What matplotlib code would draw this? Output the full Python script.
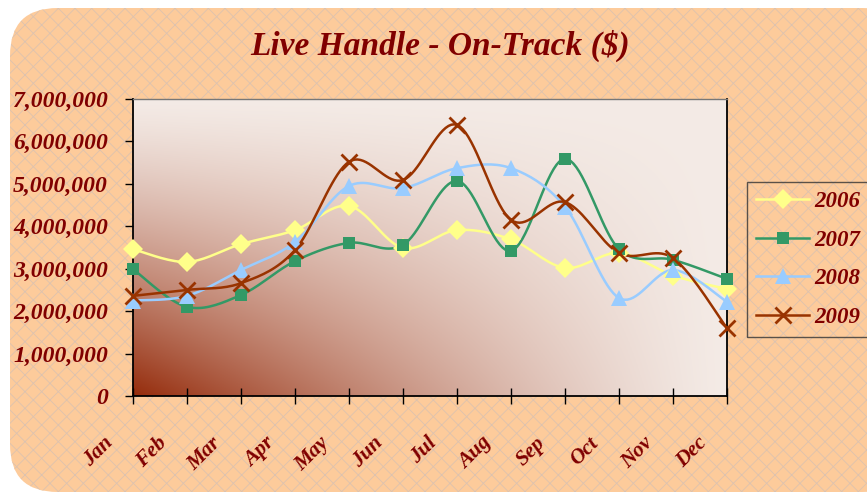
import numpy as np
import matplotlib
matplotlib.use("Agg")
import matplotlib.pyplot as plt
from matplotlib.patches import FancyBboxPatch
from matplotlib.transforms import ScaledTranslation
from matplotlib.colors import to_rgb

months = ['Jan', 'Feb', 'Mar', 'Apr', 'May', 'Jun', 'Jul', 'Aug', 'Sep', 'Oct', 'Nov', 'Dec']
years = ['2006', '2007', '2008', '2009']

v2006 = [3460000, 3160000, 3580000, 3910000, 4480000, 3490000, 3910000, 3690000, 3020000, 3370000, 2840000, 2520000]
v2007 = [2990000, 2100000, 2380000, 3180000, 3610000, 3560000, 5070000, 3420000, 5590000, 3460000, 3210000, 2760000]
v2008 = [2250000, 2360000, 2970000, 3630000, 4950000, 4900000, 5370000, 5370000, 4460000, 2310000, 2970000, 2220000]
v2009 = [2360000, 2500000, 2660000, 3440000, 5520000, 5090000, 6390000, 4150000, 4570000, 3370000, 3250000, 1600000]

colors = ['#FFFF8A', '#339966', '#99CCFF', '#993300']
markers = ['D', 's', '^', 'x']
msizes = [10, 9, 11, 11]

TXT = '#800000'
FONT = 'Liberation Serif'


def smooth(xs, ys, n=20):
    # Excel-like smoothed line: cubic bezier, tangents from neighbours
    xs = np.asarray(xs, float)
    ys = np.asarray(ys, float)
    px = np.concatenate([[xs[0]], xs, [xs[-1]]])
    py = np.concatenate([[ys[0]], ys, [ys[-1]]])
    t = np.linspace(0, 1, n)
    ox, oy = [], []
    for i in range(1, len(px) - 2):
        p0 = np.array([px[i], py[i]])
        p3 = np.array([px[i + 1], py[i + 1]])
        c1 = p0 + (np.array([px[i + 1], py[i + 1]]) - np.array([px[i - 1], py[i - 1]])) / 6
        c2 = p3 - (np.array([px[i + 2], py[i + 2]]) - np.array([px[i], py[i]])) / 6
        b = ((1 - t) ** 3)[:, None] * p0 + (3 * (1 - t) ** 2 * t)[:, None] * c1 \
            + (3 * (1 - t) * t ** 2)[:, None] * c2 + (t ** 3)[:, None] * p3
        ox.extend(b[:, 0])
        oy.extend(b[:, 1])
    return np.array(ox), np.array(oy)


plt.rcParams['hatch.linewidth'] = 0.6
fig = plt.figure(figsize=(8.67, 5.0), dpi=100)
fig.patch.set_facecolor('white')

bg = FancyBboxPatch((10 / 867, 8 / 500), 900 / 867, 484 / 500,
                    boxstyle='round,pad=0,rounding_size=0.055',
                    transform=fig.transFigure, facecolor='#FDCB9B',
                    edgecolor='#DCC2AF', hatch='xx', linewidth=0, zorder=-5,
                    mutation_aspect=867 / 500)
fig.patches.append(bg)

ax = fig.add_axes([133 / 867, 1 - 396 / 500, 594 / 867, 297 / 500])
ax.set_zorder(2)

# gradient plot area
gx, gy = np.meshgrid(np.linspace(0, 1, 300), np.linspace(0, 1, 200))
d = ((1 - gx) * (1 - gy)) ** 1.3
light = np.array(to_rgb('#F4EBE6'))
dark = np.array(to_rgb('#952C0C'))
img = light[None, None, :] * (1 - d[..., None]) + dark[None, None, :] * d[..., None]
ax.imshow(img, origin='lower', extent=[0, 1, 0, 1], transform=ax.transAxes,
          aspect='auto', zorder=0)

x = np.arange(len(months))
for vals, c, m, ms, lab in zip([v2006, v2007, v2008, v2009], colors, markers, msizes, years):
    sx, sy = smooth(x, vals)
    ax.plot(sx, sy, color=c, lw=1.8, zorder=2)
    ax.plot(x, vals, linestyle='none', marker=m, color=c, ms=ms,
            mew=2 if m == 'x' else 0, zorder=3, clip_on=False)
    ax.plot([], [], color=c, lw=1.8, marker=m, ms=ms, mew=2 if m == 'x' else 0, label=lab)

ax.set_xlim(0, 11)
ax.set_ylim(0, 7000000)
ax.set_xticks(x)
ax.set_xticklabels([])
ax.tick_params(axis='x', direction='inout', length=11, width=1)
# month labels, rotated and set down-left of each tick
off = ScaledTranslation(-16 / 100, -37 / 100, fig.dpi_scale_trans)
for i, mth in enumerate(months):
    ax.text(i, 0, mth, transform=ax.get_xaxis_transform() + off, rotation=45,
            ha='right', va='top', fontfamily=FONT, fontsize=15.5, fontweight='bold',
            fontstyle='italic', color=TXT, clip_on=False)

ax.set_yticks(np.arange(0, 7000001, 1000000))
ax.set_yticklabels(['{:,}'.format(v) for v in range(0, 7000001, 1000000)],
                   fontfamily=FONT, fontsize=17, fontweight='bold', fontstyle='italic', color=TXT)
ax.tick_params(axis='y', direction='out', length=6, width=1, pad=12)

for s in ['left', 'bottom', 'right']:
    ax.spines[s].set_color('black')
    ax.spines[s].set_linewidth(1.3)
ax.spines['top'].set_color('#777777')
ax.spines['top'].set_linewidth(1)

fig.text(440 / 867, 1 - 46 / 500, 'Live Handle - On-Track ($)', ha='center', va='center',
         fontfamily=FONT, fontsize=24, fontweight='bold', fontstyle='italic', color=TXT)

leg = fig.legend(loc='upper left', bbox_to_anchor=(747 / 867, 1 - 182 / 500),
                 frameon=True, fancybox=False, handlelength=2.3, handletextpad=0.25,
                 labelspacing=0.76, borderpad=0.4, borderaxespad=0,
                 prop={'family': FONT, 'size': 16.5, 'weight': 'bold', 'style': 'italic'})
leg.get_frame().set_facecolor('none')
leg.get_frame().set_edgecolor('#333333')
leg.get_frame().set_linewidth(1)
for t in leg.get_texts():
    t.set_color(TXT)

fig.savefig('out.png', dpi=100)
